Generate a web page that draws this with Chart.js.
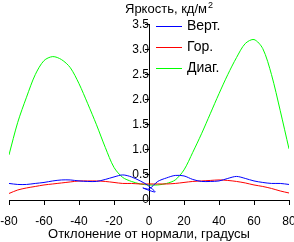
<!DOCTYPE html>
<html>
<head>
<meta charset="utf-8">
<script src="https://cdn.jsdelivr.net/npm/chart.js@4"></script>
<style>
  html, body { margin: 0; padding: 0; background: #fff; overflow: hidden; }
  canvas { display: block; }
</style>
</head>
<body>
<canvas id="myChart" width="294" height="242"></canvas>
<script>
// angles (degrees) for red and green
var angles = [-80,-75,-70,-65,-60,-55,-50,-45,-40,-35,-30,-25,-20,-15,-10,-5,0,5,10,15,20,25,30,35,40,45,50,55,60,65,70,75,80];
var gorValues = [0.13,0.2,0.24,0.27,0.3,0.32,0.34,0.36,0.38,0.38,0.38,0.37,0.35,0.33,0.33,0.32,0.32,0.32,0.32,0.33,0.35,0.37,0.38,0.39,0.4,0.39,0.37,0.34,0.3,0.27,0.23,0.18,0.14];
var diagValues = [0.9,1.55,2.05,2.5,2.78,2.86,2.8,2.64,2.32,1.92,1.5,1.05,0.65,0.45,0.37,0.32,0.3,0.3,0.33,0.4,0.6,0.95,1.32,1.72,2.12,2.5,2.84,3.12,3.2,3.02,2.5,1.78,1.02];
// blue goes back a little around zero
var vertAngles = [-80,-75,-70,-65,-60,-55,-50,-45,-40,-35,-30,-25,-20,-15,-10,-5,-1,3.5,-3.5,0,5,10,15,20,25,30,35,40,45,50,55,60,65,70,75,80];
var vertValues = [0.33,0.31,0.31,0.33,0.35,0.38,0.4,0.4,0.38,0.37,0.37,0.41,0.46,0.5,0.46,0.38,0.3,0.16,0.24,0.22,0.37,0.44,0.49,0.48,0.41,0.37,0.37,0.38,0.43,0.47,0.43,0.38,0.35,0.33,0.33,0.31];
var xTicks = [-80,-60,-40,-20,0,20,40,60,80];
var yMax = 3.5;

function toPoints(xs, ys) {
    return xs.map(function(x, i) {
        return {x: x, y: ys[i]};
    });
}

// title on top of y axis with superscript 2
var titlePlugin = {
    id: 'yTitle',
    afterDraw: function(chart) {
        var c = chart.ctx;
        c.save();
        c.fillStyle = '#000';
        c.textBaseline = 'alphabetic';
        c.font = '13px "Liberation Sans", Arial, sans-serif';
        var txt = 'Яркость, кд/м';
        c.fillText(txt, 125, 13);
        var w = c.measureText(txt).width;
        c.font = '9px "Liberation Sans", Arial, sans-serif';
        c.fillText('2', 125 + w + 1, 8);
        c.restore();
    }
};

// legend inside plot
var legendPlugin = {
    id: 'boxLegend',
    afterDraw: function(chart) {
        var c = chart.ctx;
        c.save();
        c.font = '14px "Liberation Sans", Arial, sans-serif';
        c.textBaseline = 'middle';
        chart.data.datasets.forEach(function(ds, i) {
            var y = 26 + i * 21;
            c.strokeStyle = ds.borderColor;
            c.lineWidth = 1;
            c.beginPath();
            c.moveTo(156, y + 0.5);
            c.lineTo(182, y + 0.5);
            c.stroke();
            c.fillStyle = '#000';
            c.fillText(ds.label, 187, y);
        });
        c.restore();
    }
};

var ctx = document.getElementById('myChart').getContext('2d');
var myChart = new Chart(ctx, {
    type: 'line',
    data: {
        datasets: [{
            label: 'Верт.',
            data: toPoints(vertAngles, vertValues),
            borderColor: '#0000ff',
            borderWidth: 1,
            pointRadius: 0,
            tension: 0.3,
            fill: false
        }, {
            label: 'Гор.',
            data: toPoints(angles, gorValues),
            borderColor: '#ff0000',
            borderWidth: 1,
            pointRadius: 0,
            tension: 0.3,
            fill: false
        }, {
            label: 'Диаг.',
            data: toPoints(angles, diagValues),
            borderColor: '#00ff00',
            borderWidth: 1,
            pointRadius: 0,
            tension: 0.3,
            fill: false
        }]
    },
    options: {
        responsive: false,
        animation: false,
        layout: {
            padding: {left: 0, right: 0, top: 24.5, bottom: 0}
        },
        plugins: {
            legend: {display: false},
            tooltip: {enabled: false}
        },
        scales: {
            x: {
                type: 'linear',
                min: -80,
                max: 80,
                afterBuildTicks: function(scale) {
                    scale.ticks = xTicks.map(function(v) { return {value: v}; });
                },
                afterFit: function(scale) {
                    scale.height = 42;
                    scale.paddingLeft = 9;
                    scale.paddingRight = 5;
                },
                grid: {drawOnChartArea: false, drawTicks: true, tickLength: 5, color: '#000'},
                border: {color: '#000', width: 1},
                ticks: {
                    color: '#000',
                    padding: 9,
                    maxRotation: 0,
                    font: {family: '"Liberation Sans", Arial, sans-serif', size: 12}
                },
                title: {
                    display: true,
                    text: 'Отклонение от нормали, градусы',
                    color: '#000',
                    padding: {top: 0, bottom: 0},
                    font: {family: '"Liberation Sans", Arial, sans-serif', size: 13}
                }
            },
            y: {
                position: {x: 0},
                min: 0,
                max: yMax,
                ticks: {
                    stepSize: 0.5,
                    color: '#000',
                    padding: 6,
                    font: {family: '"Liberation Sans", Arial, sans-serif', size: 12}
                },
                grid: {drawOnChartArea: false, drawTicks: true, tickLength: 4, color: '#000'},
                border: {color: '#000', width: 1}
            }
        }
    },
    plugins: [titlePlugin, legendPlugin]
});
</script>
</body>
</html>
